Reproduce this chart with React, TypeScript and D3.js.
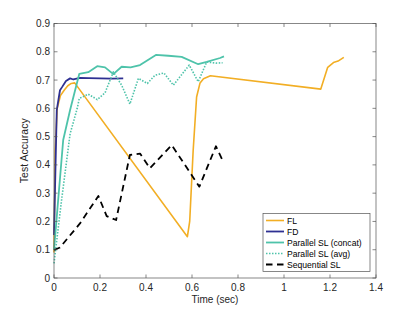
import React from "react";
import * as d3 from "d3";

type Pt = [number, number];

const flData: Pt[] = [
  [0, 0.09], [0.005, 0.45], [0.014, 0.6], [0.028, 0.645], [0.045, 0.665],
  [0.06, 0.68], [0.075, 0.688], [0.09, 0.69], [0.58, 0.146], [0.59, 0.2],
  [0.605, 0.45], [0.62, 0.64], [0.635, 0.69], [0.65, 0.705], [0.68, 0.715],
  [1.16, 0.668], [1.19, 0.745], [1.215, 0.762], [1.235, 0.767], [1.26, 0.78],
];
const fdData: Pt[] = [
  [0, 0.152], [0.012, 0.594], [0.026, 0.664], [0.035, 0.675], [0.052, 0.697],
  [0.07, 0.706], [0.084, 0.702], [0.113, 0.708], [0.15, 0.707], [0.2, 0.706],
  [0.25, 0.705], [0.301, 0.706],
];
const concatData: Pt[] = [
  [0, 0.1], [0.04, 0.488], [0.07, 0.594], [0.11, 0.722], [0.149, 0.728],
  [0.188, 0.749], [0.222, 0.745], [0.258, 0.721], [0.294, 0.747], [0.333, 0.745],
  [0.374, 0.753], [0.443, 0.789], [0.497, 0.786], [0.555, 0.782], [0.627, 0.756],
  [0.664, 0.764], [0.722, 0.778], [0.739, 0.784],
];
const avgData: Pt[] = [
  [0, 0.052], [0.033, 0.276], [0.07, 0.51], [0.101, 0.6], [0.11, 0.635],
  [0.149, 0.65], [0.188, 0.631], [0.222, 0.655], [0.258, 0.729], [0.294, 0.682],
  [0.33, 0.615], [0.367, 0.706], [0.406, 0.688], [0.439, 0.717], [0.478, 0.725],
  [0.519, 0.682], [0.588, 0.753], [0.627, 0.694], [0.664, 0.764], [0.704, 0.76],
  [0.733, 0.761],
];
const seqData: Pt[] = [
  [0, 0.099], [0.026, 0.108], [0.113, 0.193], [0.193, 0.29], [0.229, 0.219],
  [0.27, 0.205], [0.33, 0.435], [0.374, 0.44], [0.417, 0.388], [0.512, 0.47],
  [0.584, 0.382], [0.632, 0.323], [0.704, 0.466], [0.736, 0.411],
];

const seriesNames = ["FL", "FD", "Parallel SL (concat)", "Parallel SL (avg)", "Sequential SL"];
const xTicks = [0, 0.2, 0.4, 0.6, 0.8, 1, 1.2, 1.4];
const yTicks = [0, 0.1, 0.2, 0.3, 0.4, 0.5, 0.6, 0.7, 0.8, 0.9];

const seriesStyle = [
  { data: flData, color: "#F2AE24", dash: "none", width: 1.6 },
  { data: fdData, color: "#2E3092", dash: "none", width: 1.8 },
  { data: concatData, color: "#4EC3AA", dash: "none", width: 1.8 },
  { data: avgData, color: "#4EC3AA", dash: "1.5,1.5", width: 1.6 },
  { data: seqData, color: "#000000", dash: "6.5,4.5", width: 1.8 },
];

export default function App() {
  const W = 415, H = 312;
  const left = 54, right = 376, top = 23.5, bottom = 278;
  const x = d3.scaleLinear().domain([0, 1.4]).range([left, right]);
  const y = d3.scaleLinear().domain([0, 0.9]).range([bottom, top]);
  const line = d3.line<Pt>().x(d => x(d[0])).y(d => y(d[1]));
  const axisColor = "#555555";
  const textColor = "#262626";
  const font = "Liberation Sans, Arial, sans-serif";

  const lg = { x: 263, y: 213.5, w: 107, h: 58 };

  return (
    <svg width={W} height={H} style={{ position: "absolute", left: 0, top: 0 }} fontFamily={font}>
      <rect x={0} y={0} width={W} height={H} fill="#fff" />
      {seriesStyle.map((s, i) => (
        <path key={i} d={line(s.data) || ""} fill="none" stroke={s.color}
          strokeWidth={s.width} strokeDasharray={s.dash} strokeLinejoin="round" />
      ))}
      {/* axes box */}
      <rect x={left} y={top} width={right - left} height={bottom - top} fill="none" stroke={axisColor} strokeWidth={0.7} />
      {xTicks.map(t => (
        <g key={"x" + t}>
          <line x1={x(t)} x2={x(t)} y1={bottom} y2={bottom - 3.5} stroke={axisColor} strokeWidth={0.7} />
          <line x1={x(t)} x2={x(t)} y1={top} y2={top + 3.5} stroke={axisColor} strokeWidth={0.7} />
          <text x={x(t)} y={bottom + 13} textAnchor="middle" fontSize={10} fill={textColor}>{t}</text>
        </g>
      ))}
      {yTicks.map(t => (
        <g key={"y" + t}>
          <line x1={left} x2={left + 3.5} y1={y(t)} y2={y(t)} stroke={axisColor} strokeWidth={0.7} />
          <line x1={right} x2={right - 3.5} y1={y(t)} y2={y(t)} stroke={axisColor} strokeWidth={0.7} />
          <text x={left - 4} y={y(t) + 3.5} textAnchor="end" fontSize={10} fill={textColor}>{t}</text>
        </g>
      ))}
      <text x={(left + right) / 2} y={303} textAnchor="middle" fontSize={10} fill={textColor}>Time (sec)</text>
      <text transform={`translate(27.5,${(top + bottom) / 2}) rotate(-90)`} textAnchor="middle" fontSize={10.5} fill={textColor}>Test Accuracy</text>
      {/* legend */}
      <rect x={lg.x} y={lg.y} width={lg.w} height={lg.h} fill="#fff" stroke={axisColor} strokeWidth={0.7} />
      {seriesNames.map((n, i) => {
        const s = seriesStyle[i];
        const ly = lg.y + 7 + i * 11;
        return (
          <g key={n}>
            <line x1={lg.x + 3} x2={lg.x + 21} y1={ly} y2={ly} stroke={s.color} strokeWidth={s.width}
              strokeDasharray={s.dash} />
            <text x={lg.x + 24} y={ly + 3.2} fontSize={8.6} fill="#000">{n}</text>
          </g>
        );
      })}
    </svg>
  );
}
